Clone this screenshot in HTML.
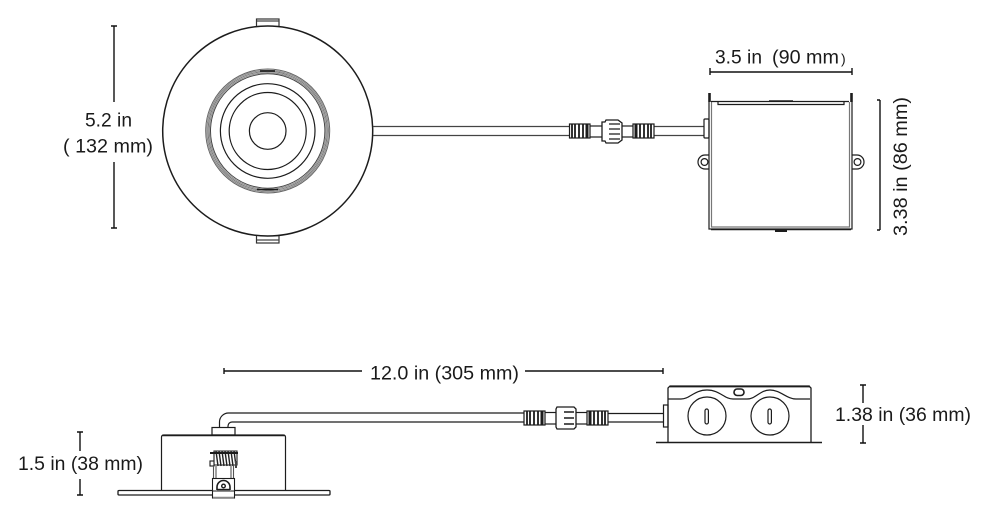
<!DOCTYPE html>
<html><head><meta charset="utf-8">
<style>
html,body{margin:0;padding:0;background:#fff;width:990px;height:518px;overflow:hidden}
svg{display:block}
text{font-family:"Liberation Sans",sans-serif;font-size:19.5px;fill:#1a1a1a}
</style></head><body>
<svg width="990" height="518" viewBox="0 0 990 518" xmlns="http://www.w3.org/2000/svg">
<g fill="none" stroke="#1c1c1c" stroke-width="1.2">
<!-- top round fixture -->
<rect x="256.5" y="19" width="22.5" height="7.5" stroke="#333" fill="#fff"/>
<line x1="257" y1="21" x2="279" y2="21" stroke="#444"/>
<rect x="256.5" y="235" width="22.5" height="8" stroke="#333" fill="#fff"/>
<line x1="257" y1="240" x2="279" y2="240" stroke="#444"/>
<circle cx="267.7" cy="131" r="105" stroke-width="1.5" fill="#fff"/>
<circle cx="267.7" cy="131" r="62" stroke="#666" stroke-width="1"/>
<circle cx="267.7" cy="131" r="60.8" stroke="#888" stroke-width="1"/>
<circle cx="267.7" cy="131" r="59.6" stroke="#777" stroke-width="1"/>
<circle cx="267.7" cy="131" r="58.4" stroke="#888" stroke-width="1"/>
<circle cx="267.7" cy="131" r="57.2" stroke="#444" stroke-width="1"/>
<circle cx="267.7" cy="131" r="47.3"/>
<circle cx="267.7" cy="131" r="38.5"/>
<circle cx="267.7" cy="131" r="18.3"/>
<line x1="260" y1="71" x2="275" y2="71" stroke-width="1.6"/>
<line x1="257" y1="189.5" x2="278" y2="189.5" stroke-width="1.4"/>
<!-- top wire -->
<line x1="373" y1="126.5" x2="570" y2="126.5" stroke="#444"/>
<line x1="373" y1="135.5" x2="570" y2="135.5" stroke="#444"/>
<line x1="654" y1="126.5" x2="704" y2="126.5" stroke="#444"/>
<line x1="654" y1="135.5" x2="704" y2="135.5" stroke="#444"/>
<!-- top connector -->
<rect x="569.5" y="124" width="20.5" height="14" fill="#fff"/>
<g stroke-width="1.8"><line x1="572" y1="124" x2="572" y2="138"/><line x1="575" y1="124" x2="575" y2="138"/><line x1="579" y1="124" x2="579" y2="138"/><line x1="583" y1="124" x2="583" y2="138"/><line x1="587" y1="124" x2="587" y2="138" stroke-width="3"/></g>
<line x1="590" y1="126" x2="602" y2="126"/><line x1="590" y1="137" x2="602" y2="137"/>
<path d="M602 122h3l1-2h12l4 3v17l-4 3h-12l-1-2h-3z" fill="#fff" stroke-width="1.3"/>
<path d="M609 124h11M609 129h11M609 134h11M609 139h11" stroke-width="1.3"/>
<line x1="622" y1="126" x2="633" y2="126"/><line x1="622" y1="137" x2="633" y2="137"/>
<rect x="633" y="124" width="21" height="14" fill="#fff"/>
<g stroke-width="1.8"><line x1="636" y1="124" x2="636" y2="138" stroke-width="3"/><line x1="640" y1="124" x2="640" y2="138"/><line x1="644" y1="124" x2="644" y2="138"/><line x1="648" y1="124" x2="648" y2="138"/><line x1="651" y1="124" x2="651" y2="138"/></g>
<!-- top box -->
<rect x="704" y="119" width="5" height="19" rx="1" fill="#fff"/>
<path d="M709 102V229h143V102"/>
<path d="M711.5 102V227h138V102" stroke="#777"/>
<line x1="711" y1="229.5" x2="851" y2="229.5" stroke-width="1.5"/>
<line x1="709.5" y1="93" x2="709.5" y2="102" stroke-width="2.6"/>
<line x1="851.5" y1="93" x2="851.5" y2="102" stroke-width="2.6"/>
<line x1="711" y1="101.5" x2="849" y2="101.5" stroke-width="1.2"/>
<path d="M718 102v2.5h126v-2.5"/>
<line x1="769" y1="101" x2="793" y2="101" stroke-width="1.6"/>
<line x1="775" y1="231" x2="787" y2="231" stroke-width="2"/>
<path d="M709 155h-4a7 7 0 0 0 0 14h4"/><circle cx="704.5" cy="162" r="3.4"/>
<path d="M852 155h5a7 7 0 0 1 0 14h-5"/><circle cx="857.5" cy="162" r="3.4"/>

<!-- bottom wire / fixture -->
<path d="M219.5 428v-6a9 9 0 0 1 9-9H524"/>
<path d="M228 428v-2a4 4 0 0 1 4-4H524"/>
<rect x="212" y="427.5" width="23" height="7.5" fill="#fff"/>
<path d="M161.5 490V437a2 2 0 0 1 2-2H283.5a2 2 0 0 1 2 2V490"/>
<line x1="162" y1="435.5" x2="285" y2="435.5" stroke-width="1.6"/>
<rect x="118" y="490.5" width="212" height="4.5" rx="1" stroke-width="1.3" fill="#fff"/>
<!-- clip -->
<g stroke-width="1.1">
<path d="M214 451h23v14h-23z" fill="#fff"/>
<path d="M216 451l2 15M219 451l2 15M222 451l2 15M225 451l2 15M228 451l2 15M231 451l2 15M234 451l2 15" stroke-width="1.4" stroke="#222"/>
<line x1="210" y1="453" x2="238" y2="453" stroke-width="2"/>
<rect x="210" y="461" width="4" height="5" fill="#fff"/>
<rect x="235" y="461" width="2" height="7" fill="#444" stroke="none"/>
<path d="M213.5 466V479M216 466V479M231 466V479M233.5 466V479" stroke="#555"/>
<rect x="212.5" y="478.5" width="22" height="19.5" fill="#fff"/>
<line x1="213" y1="491" x2="234" y2="491"/>
<line x1="213" y1="497.5" x2="234" y2="497.5" stroke="#888" stroke-width="1.5"/>
<path d="M217 490v-3a6.5 6.5 0 0 1 13 0v3" stroke-width="1.6"/><circle cx="223.5" cy="486" r="1.8" stroke-width="1.4"/>
<line x1="217" y1="489.5" x2="230" y2="489.5" stroke-width="1.4"/>
</g>
<!-- bottom connector -->
<rect x="524" y="411" width="21" height="14" fill="#fff"/>
<g stroke-width="1.8"><line x1="527" y1="411" x2="527" y2="425"/><line x1="530" y1="411" x2="530" y2="425"/><line x1="534" y1="411" x2="534" y2="425"/><line x1="538" y1="411" x2="538" y2="425"/><line x1="542" y1="411" x2="542" y2="425" stroke-width="3"/></g>
<line x1="545" y1="412.5" x2="556" y2="412.5"/><line x1="545" y1="424" x2="556" y2="424"/>
<path d="M556 409l1-2h17l2 2v18l-2 2h-17l-1-2z" fill="#fff" stroke-width="1.3"/>
<path d="M564 412h10M564 418h10M564 424h10" stroke-width="1.4"/>
<line x1="576" y1="412.5" x2="587" y2="412.5"/><line x1="576" y1="424" x2="587" y2="424"/>
<rect x="587" y="411" width="21" height="14" fill="#fff"/>
<g stroke-width="1.8"><line x1="590" y1="411" x2="590" y2="425" stroke-width="3"/><line x1="594" y1="411" x2="594" y2="425"/><line x1="598" y1="411" x2="598" y2="425"/><line x1="602" y1="411" x2="602" y2="425"/><line x1="605" y1="411" x2="605" y2="425"/></g>
<line x1="608" y1="413.5" x2="663" y2="413.5"/><line x1="608" y1="422" x2="663" y2="422"/>
<!-- bottom box -->
<rect x="663.5" y="405" width="4.5" height="22" fill="#fff"/>
<path d="M668 442V388l2-2H809l2 2V442" stroke-width="1.3"/>
<line x1="670" y1="386.5" x2="810" y2="386.5" stroke-width="1.8"/>
<line x1="656" y1="442.5" x2="822" y2="442.5" stroke-width="1.6"/>
<path d="M668 399h13c9 0 13-9 26-9s17 9 26 9h14c9 0 13-9 23-9s17 9 26 9h14"/>
<circle cx="707" cy="416" r="19"/><circle cx="770" cy="416" r="19"/>
<rect x="705" y="409" width="3.4" height="15" rx="1.7"/>
<rect x="768" y="409" width="3.4" height="15" rx="1.7"/>
<rect x="734" y="389" width="10" height="6.5" rx="3.2" stroke-width="1.6"/>
<!-- dimension lines -->
<g stroke="#111" stroke-width="1.4">
<path d="M114 26V102M114 162V228M111 26h6M111 228h6"/>
<path d="M710 68V75M852 68V75M710 72H852"/>
<path d="M880 100V230M877 100h3M877 230h3"/>
<path d="M224 371H362M525 371H663M224 368v6M663 368v6"/>
<path d="M80 432V451M80 479V495M77 432h6M77 495h6"/>
<path d="M863 385V403M863 425V443M860 385h6M860 443h6"/>
</g>
</g>
<text x="85" y="126.5" textLength="47" lengthAdjust="spacingAndGlyphs">5.2 in</text>
<text x="63" y="152.5" textLength="90" lengthAdjust="spacingAndGlyphs">( 132 mm)</text>
<text x="715" y="63.5" textLength="47" lengthAdjust="spacingAndGlyphs">3.5 in</text>
<text x="772" y="63.5" textLength="67" lengthAdjust="spacingAndGlyphs">(90 mm</text>
<text x="841" y="63.5" style="font-size:14px">)</text>
<text transform="translate(907,236) rotate(-90)" textLength="139" lengthAdjust="spacingAndGlyphs">3.38 in (86 mm)</text>
<text x="370" y="379.5" textLength="149" lengthAdjust="spacingAndGlyphs">12.0 in (305 mm)</text>
<text x="18" y="470" textLength="125" lengthAdjust="spacingAndGlyphs">1.5 in (38 mm)</text>
<text x="835" y="421" textLength="136" lengthAdjust="spacingAndGlyphs">1.38 in (36 mm)</text>
</svg>
</body></html>
